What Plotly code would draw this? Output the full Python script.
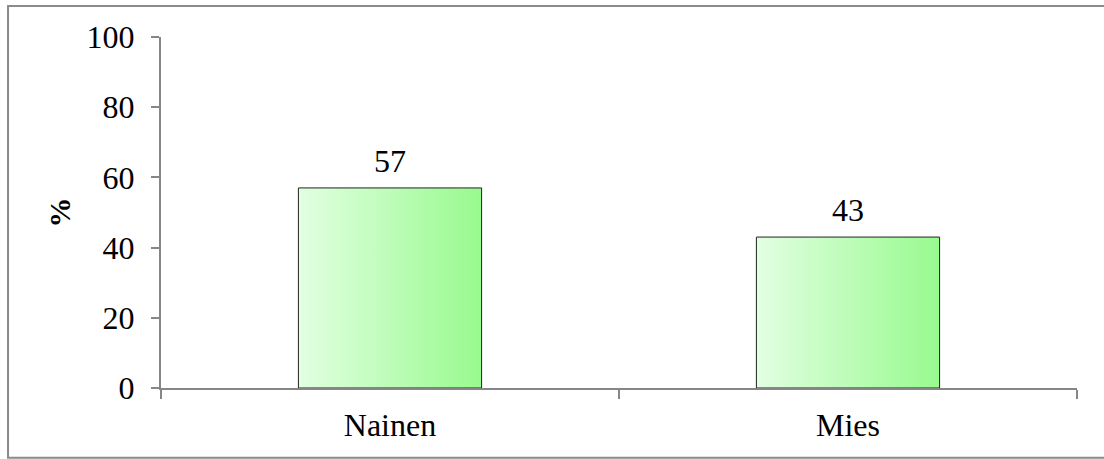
import plotly.graph_objects as go

categories = ["Nainen", "Mies"]
values = [57, 43]
y_ticks = [0, 20, 40, 60, 80, 100]

bar_width = 0.4
font_family = "Liberation Serif, Times New Roman, serif"

fig = go.Figure()

# bars drawn as filled polygons so they can carry a horizontal gradient
for i, (cat, v) in enumerate(zip(categories, values)):
    x0, x1 = i - bar_width / 2, i + bar_width / 2
    fig.add_trace(go.Scatter(
        x=[x0, x0, x1, x1, x0],
        y=[0, v, v, 0, 0],
        mode="lines",
        fill="toself",
        fillgradient=dict(type="horizontal",
                          colorscale=[[0, "#e2ffe2"], [1, "#98fa8e"]]),
        line=dict(color="#222222", width=1),
        hoverinfo="skip",
        showlegend=False,
    ))
    fig.add_annotation(x=i, y=v, text=str(v), showarrow=False,
                       yanchor="bottom", yshift=7,
                       font=dict(family=font_family, size=32, color="black"))

fig.update_layout(
    width=1104, height=459,
    margin=dict(l=161, r=27, t=37, b=71, autoexpand=False),
    paper_bgcolor="white", plot_bgcolor="white",
    font=dict(family=font_family, size=32, color="black"),
    xaxis=dict(
        range=[-0.5, 1.5],
        tickvals=list(range(len(categories))),
        ticktext=categories,
        ticks="",
        showgrid=False, zeroline=False,
        showline=True, linecolor="#868686", linewidth=2,
        minor=dict(tickvals=[-0.5, 0.5, 1.5], ticks="outside",
                   ticklen=9, tickcolor="#868686", tickwidth=2, showgrid=False),
        ticklabelstandoff=8,
    ),
    yaxis=dict(
        range=[0, 100],
        tickvals=y_ticks,
        ticks="outside", ticklen=8, tickcolor="#868686", tickwidth=2,
        showgrid=False, zeroline=False,
        showline=True, linecolor="#868686", linewidth=2,
        ticklabelstandoff=10,
        title=dict(text="<b>%</b>", standoff=7,
                   font=dict(family=font_family, size=30)),
    ),
    shapes=[dict(type="rect", xref="paper", yref="paper",
                 x0=-0.167, x1=1.04, y0=-0.199, y1=1.088,
                 line=dict(color="#8a8a8a", width=2), layer="below")],
)

fig.write_html("out.html", config={"displayModeBar": False},
               post_script="document.body.style.margin='0';")
